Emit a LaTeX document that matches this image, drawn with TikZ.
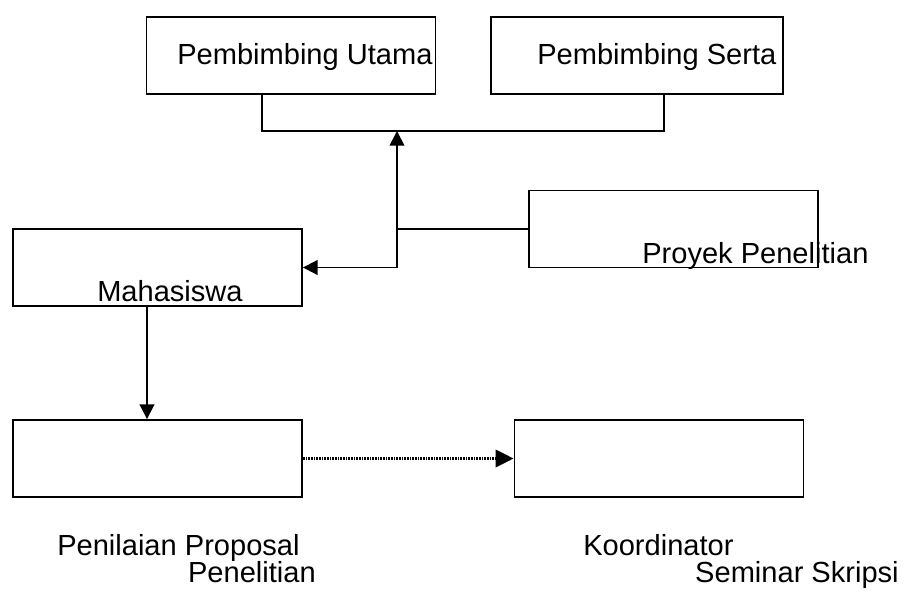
\documentclass[tikz,border=0pt]{standalone}
\usepackage{fontspec}
\setmainfont{Liberation Sans}
\usetikzlibrary{
    arrows.meta,
    calc,
    positioning
}
\tikzset{
    kotak/.style={draw, line width=1.4pt, minimum width=216.75pt, minimum height=57.75pt, inner sep=0pt},
    teks/.style={inner sep=0pt, font=\fontsize{21.8}{26}\selectfont},
    garis/.style={line width=1.4pt},
    panah/.style={line width=1.4pt, -{Triangle[length=11pt, width=11pt]}}
}

\begin{document}
\begin{tikzpicture}[x=0.75pt, y=-0.75pt]
                                        \useasboundingbox (0, 0) rectangle (912, 595);
                                        \begin{scope}[shift={(0, 0)}]
                                            \node[kotak] (utama) at (291, 55.5) {};
                                            \node[kotak, minimum width=219pt] (serta) at (637, 55.5) {};
                                            \node[teks, anchor=base west] (tutama) at (177, 65) {Pembimbing Utama};
                                            \node[teks, anchor=base west] (tserta) at (537, 65) {Pembimbing Serta};
                                            \coordinate (ku) at (262, 131);
                                            \coordinate (ks) at (664, 131);
                                            \draw[garis]
                                            (utama.south -| ku) -- (ku) -- (ks) -- (serta.south -| ks);
                                        \end{scope}
                                        \begin{scope}[shift={(0, 0)}]
                                            \node[kotak] (proyek) at (673.5, 229) {};
                                            \node[kotak] (mhs) at (157.5, 267.5) {};
                                            \node[teks, anchor=base west] (tproyek) at (642, 263) {Proyek Penelitian};
                                            \node[teks, anchor=base west] (tmhs) at (97, 301) {Mahasiswa};
                                            \coordinate (cabang) at (397, 229);
                                            \coordinate (siku) at (397, 267.5);
                                            \draw[garis] (proyek.west) -- (cabang);
                                            \draw[panah] (siku) -- (ku -| siku);
                                            \draw[panah] (siku) -- (mhs.east);
                                        \end{scope}
                                        \begin{scope}[shift={(0, 0)}]
                                            \node[kotak] (nilai) at (157.5, 458.5) {};
                                            \node[kotak] (koor) at (659, 458.5) {};
                                            \node[teks, anchor=base west] (tnilai) at (57, 555) {Penilaian Proposal};
                                            \node[teks, anchor=base east] (tnilai2) at (316, 582) {Penelitian};
                                            \node[teks, anchor=base west] (tkoor) at (583, 555) {Koordinator};
                                            \node[teks, anchor=base east] (tkoor2) at (899, 582) {Seminar Skripsi};
                                            \coordinate (turun) at (147, 0);
                                            \draw[panah] (mhs.south -| turun) -- (nilai.north -| turun);
                                            \draw[panah, line width=2pt, dash pattern=on 1.2pt off 0.8pt, -{Triangle[length=13.5pt, width=13pt]}]
                                            (nilai.east) -- (koor.west);
                                        \end{scope}
                                    \end{tikzpicture}
\end{document}
